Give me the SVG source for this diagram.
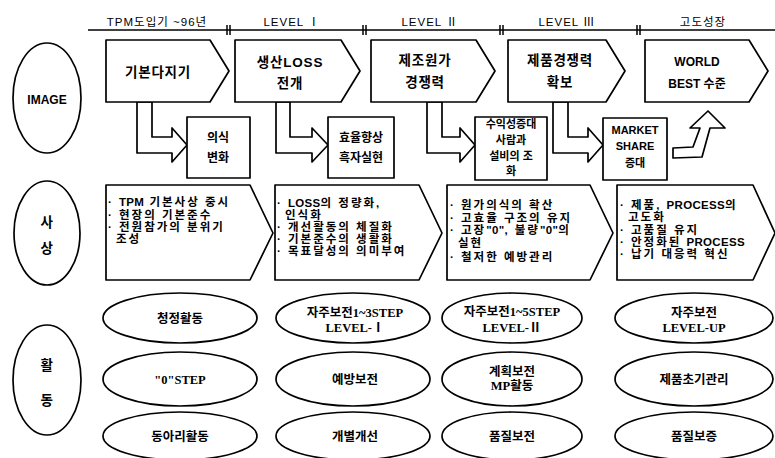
<svg xmlns="http://www.w3.org/2000/svg" width="775" height="458" viewBox="0 0 775 458">
<style>
.s{fill:#fff;stroke:#000;stroke-width:1.7;stroke-linejoin:round}
.t{font-family:"Liberation Sans","Noto Sans CJK KR",sans-serif;fill:#000;text-anchor:middle}
.h{font-size:11.5px;letter-spacing:1px}
.b{font-size:13.5px;font-weight:bold;letter-spacing:0.8px}
.m{font-size:12px;font-weight:bold}
.l{font-family:"Liberation Sans","Noto Sans CJK KR",sans-serif;font-size:11.5px;font-weight:bold;fill:#000;letter-spacing:2px}
.n{letter-spacing:0.3px}
.r{font-family:"Liberation Serif","Noto Sans CJK KR",serif;font-size:12.5px;font-weight:bold;fill:#000;text-anchor:middle}
.ln{stroke:#000;stroke-width:1.5;fill:none}
</style>
<rect width="775" height="458" fill="#fff"/>

<g id="header">
<line class="ln" x1="88" y1="30" x2="775" y2="30"/>
<g class="ln">
<line x1="227" y1="25" x2="227" y2="35"/><line x1="230" y1="25" x2="230" y2="35"/>
<line x1="363" y1="25" x2="363" y2="35"/><line x1="366" y1="25" x2="366" y2="35"/>
<line x1="500" y1="25" x2="500" y2="35"/><line x1="503" y1="25" x2="503" y2="35"/>
<line x1="637" y1="25" x2="637" y2="35"/><line x1="640" y1="25" x2="640" y2="35"/>
</g>
<text class="t h" x="157" y="26">TPM도입기 ~96년</text>
<text class="t h" x="292" y="26">LEVEL  Ⅰ</text>
<text class="t h" x="430" y="26">LEVEL  Ⅱ</text>
<text class="t h" x="567" y="26">LEVEL  Ⅲ</text>
<text class="t h" x="703" y="26">고도성장</text>
</g>

<g id="row-image">
<ellipse class="s" cx="47" cy="98" rx="34" ry="55"/>
<text class="t" x="47" y="104" style="font-size:12px;font-weight:bold">IMAGE</text>
</g>
<g id="row-sasang">
<ellipse class="s" cx="47" cy="233" rx="33" ry="52"/>
<text class="t b" x="47" y="227">사</text>
<text class="t b" x="47" y="253">상</text>
</g>
<g id="row-hwaldong">
<ellipse class="s" cx="47" cy="380" rx="34" ry="55"/>
<text class="t b" x="47" y="370">활</text>
<text class="t b" x="47" y="405">동</text>
</g>

<g id="connectors">
<polygon class="s" points="137,102 137,153 172,153 172,162 187,145 172,128 172,137 152,137 152,102"/>
<polygon class="s" points="276,102 276,153 312,153 312,162 328,145 312,128 312,137 290,137 290,102"/>
<polygon class="s" points="427,102 427,153 460,153 460,162 475,145 460,128 460,137 442,137 442,102"/>
<polygon class="s" points="553,102 553,153 588,153 588,162 603,145 588,128 588,137 568,137 568,102"/>
<polygon class="s" points="673,148 673,158 702,157 710,128 725,128 708,111 690,128 700,128 693,147"/>
</g>

<g id="img1">
<polygon class="s" points="106,40 210,40 229,71 210,102 106,102"/>
<text class="t b" x="158" y="77">기본다지기</text>
</g>
<g id="img2">
<polygon class="s" points="235,40 341,40 360,71 341,102 235,102"/>
<text class="t b" x="290" y="67">생산LOSS</text>
<text class="t b" x="290" y="88">전개</text>
</g>
<g id="img3">
<polygon class="s" points="371,40 476,40 495,71 476,102 371,102"/>
<text class="t b" x="425" y="65">제조원가</text>
<text class="t b" x="425" y="87">경쟁력</text>
</g>
<g id="img4">
<polygon class="s" points="508,40 606,40 625,71 606,102 508,102"/>
<text class="t b" x="560" y="65">제품경쟁력</text>
<text class="t b" x="560" y="87">확보</text>
</g>
<g id="img5">
<polygon class="s" points="645,40 749,40 768,71 749,102 645,102"/>
<text class="t m" x="697" y="66">WORLD</text>
<text class="t m" x="697" y="88">BEST 수준</text>
</g>

<g id="sub1">
<rect class="s" x="187" y="117" width="63" height="61"/>
<text class="t m" x="218" y="142">의식</text>
<text class="t m" x="218" y="162">변화</text>
</g>
<g id="sub2">
<rect class="s" x="328" y="117" width="66" height="61"/>
<text class="t m" x="361" y="142">효율향상</text>
<text class="t m" x="361" y="162">흑자실현</text>
</g>
<g id="sub3">
<rect class="s" x="475" y="117" width="72" height="63"/>
<text class="t" x="511" y="128" style="font-size:11px;font-weight:bold">수익성증대</text>
<text class="t" x="511" y="144" style="font-size:11px;font-weight:bold">사람과</text>
<text class="t" x="511" y="160" style="font-size:11px;font-weight:bold">설비의 조</text>
<text class="t" x="511" y="175" style="font-size:11px;font-weight:bold">화</text>
</g>
<g id="sub4">
<rect class="s" x="603" y="118" width="64" height="62"/>
<text class="t" x="635" y="134" style="font-size:11px;font-weight:bold">MARKET</text>
<text class="t" x="635" y="150" style="font-size:11px;font-weight:bold">SHARE</text>
<text class="t" x="635" y="167" style="font-size:11px;font-weight:bold">증대</text>
</g>

<g id="sa1">
<polygon class="s" points="106,185 250,185 273,233 250,280 106,280"/>
<text class="l" x="108" y="206">· <tspan class="n">TPM</tspan> 기본사상 중시</text>
<text class="l" x="108" y="219">· 현장의 기본준수</text>
<text class="l" x="108" y="231">· 전원참가의 분위기</text>
<text class="l" x="116" y="243">조성</text>
</g>
<g id="sa2">
<polygon class="s" points="275,185 419,185 442,233 419,280 275,280"/>
<text class="l" x="277" y="207">· <tspan class="n">LOSS</tspan>의 정량화,</text>
<text class="l" x="285" y="219">인식화</text>
<text class="l" x="277" y="231">· 개선활동의 체질화</text>
<text class="l" x="277" y="243">· 기본준수의 생활화</text>
<text class="l" x="277" y="255">· 목표달성의 의미부여</text>
</g>
<g id="sa3">
<polygon class="s" points="447,185 590,185 613,233 590,280 447,280"/>
<text class="l" x="450" y="209">· 원가의식의 확산</text>
<text class="l" x="450" y="222">· 고효율 구조의 유지</text>
<text class="l" x="450" y="234">· 고장<tspan class="n">"0"</tspan>, 불량<tspan class="n">"0"</tspan>의</text>
<text class="l" x="458" y="247">실현</text>
<text class="l" x="450" y="261">· 철저한 예방관리</text>
</g>
<g id="sa4">
<polygon class="s" points="617,185 753,185 775,233 753,280 617,280"/>
<text class="l" x="620" y="209">· 제품, <tspan class="n">PROCESS</tspan>의</text>
<text class="l" x="628" y="221">고도화</text>
<text class="l" x="620" y="234">· 고품질 유지</text>
<text class="l" x="620" y="246">· 안정화된 <tspan class="n">PROCESS</tspan></text>
<text class="l" x="620" y="258">· 납기 대응력 혁신</text>
</g>

<g id="a11"><ellipse class="s" cx="180" cy="318" rx="77" ry="25"/><text class="r" x="180" y="323">청정활동</text></g>
<g id="a12"><ellipse class="s" cx="180" cy="379" rx="77" ry="27"/><text class="r" x="180" y="384">"0"STEP</text></g>
<g id="a13"><ellipse class="s" cx="180" cy="436" rx="77" ry="24"/><text class="r" x="180" y="441">동아리활동</text></g>

<g id="a21"><ellipse class="s" cx="353" cy="318" rx="77" ry="25"/><text class="r" x="355" y="317">자주보전1~3STEP</text><text class="r" x="355" y="332">LEVEL-Ⅰ</text></g>
<g id="a22"><ellipse class="s" cx="353" cy="379" rx="77" ry="27"/><text class="r" x="355" y="384">예방보전</text></g>
<g id="a23"><ellipse class="s" cx="353" cy="436" rx="77" ry="24"/><text class="r" x="355" y="441">개별개선</text></g>

<g id="a31"><ellipse class="s" cx="512" cy="318" rx="70" ry="25"/><text class="r" x="512" y="316">자주보전1~5STEP</text><text class="r" x="512" y="332">LEVEL-Ⅱ</text></g>
<g id="a32"><ellipse class="s" cx="512" cy="379" rx="70" ry="27"/><text class="r" x="512" y="376">계획보전</text><text class="r" x="512" y="390">MP활동</text></g>
<g id="a33"><ellipse class="s" cx="512" cy="436" rx="70" ry="24"/><text class="r" x="512" y="441">품질보전</text></g>

<g id="a41"><ellipse class="s" cx="694" cy="318" rx="79" ry="25"/><text class="r" x="694" y="317">자주보전</text><text class="r" x="694" y="332">LEVEL-UP</text></g>
<g id="a42"><ellipse class="s" cx="694" cy="379" rx="79" ry="27"/><text class="r" x="694" y="384">제품초기관리</text></g>
<g id="a43"><ellipse class="s" cx="694" cy="436" rx="79" ry="24"/><text class="r" x="694" y="441">품질보증</text></g>
</svg>
